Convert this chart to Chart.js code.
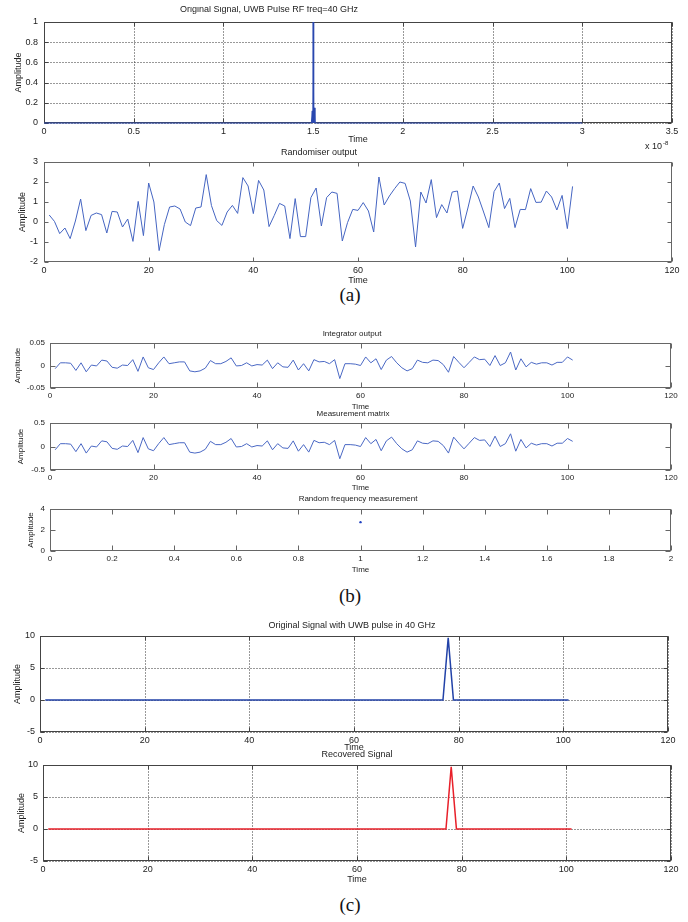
<!DOCTYPE html>
<html>
<head>
<meta charset="utf-8">
<script src="https://cdn.jsdelivr.net/npm/chart.js@4.4.0/dist/chart.umd.min.js"></script>
<style>
  body { margin: 0; background: #fff; width: 688px; height: 922px; position: relative; overflow: hidden; }
  canvas { position: absolute; left: 0; }
  .cap { position: absolute; left: 0; width: 700px; text-align: center; font-family: "Liberation Serif", "Times New Roman", serif; font-size: 19px; color: #111; }
</style>
</head>
<body>
<div class="cap" style="top:284px">(a)</div>
<div class="cap" style="top:585px">(b)</div>
<div class="cap" style="top:894px">(c)</div>
<script>
// sample index used by the 101-point series
const sampleIdx = Array.from({ length: 101 }, (_, i) => i + 1);

// (a) top: UWB pulse, time in units of 1e-8 s
const pulseTime = [0, 1.49, 1.495, 1.498, 1.5, 1.503, 1.506, 1.51, 3.0];
const pulseAmp  = [0, 0, 0.12, 0, 1.0, 0, 0.15, 0, 0];

// (a) bottom: randomiser output
const randomiser = [
  0.35, 0.03, -0.58, -0.3, -0.83, 0.05, 1.15, -0.43, 0.33, 0.45,
  0.37, -0.55, 0.53, 0.5, -0.25, 0.15, -0.97, 1.03, -0.68, 1.95,
  1.0, -1.43, -0.13, 0.75, 0.8, 0.65, 0.0, -0.18, 0.7, 0.75,
  2.37, 0.82, 0.07, -0.17, 0.5, 0.83, 0.43, 2.22, 1.8, 0.42,
  2.08, 1.6, -0.23, 0.33, 0.93, 0.8, -0.83, 1.17, -0.73, -0.73,
  1.22, 1.7, -0.2, 1.22, 1.5, 1.43, -0.95, -0.03, 0.63, 0.58,
  0.97, 0.55, -0.5, 2.25, 0.85, 1.3, 1.67, 2.0, 1.93, 1.05,
  -1.25, 1.5, 0.95, 2.12, 0.22, 0.87, 0.45, 1.5, 1.55, -0.32,
  0.7, 1.8, 1.25, 0.5, -0.28, 1.52, 1.95, 0.67, 1.18, -0.28,
  0.63, 0.62, 1.67, 0.98, 0.99, 1.55, 1.25, 0.6, 1.33, -0.33, 1.78
];

// (b) integrator output
const integrator = [
  -0.007, 0.006, 0.006, 0.005, -0.011, 0.006, -0.014, 0.001, -0.001, 0.012,
  0.01, -0.004, -0.006, 0.001, 0, 0.013, -0.013, 0.019, -0.005, -0.009,
  0.006, 0.019, 0.004, 0.006, 0.008, 0.008, -0.012, -0.014, -0.012, -0.006,
  0.011, 0.004, 0.004, 0.009, 0.017, -0.001, 0, 0.006, -0.001, 0.002,
  0.001, 0.012, -0.007, 0.006, -0.003, -0.004, 0.012, -0.01, 0.004, -0.012,
  0.013, 0.008, 0.009, 0.004, 0.013, -0.029, 0.004, 0.004, 0.003, 0,
  0.019, 0.006, 0.015, -0.009, 0.012, 0.02, 0.006, -0.005, -0.012, -0.007,
  0.012, 0.007, 0.006, 0.012, 0.011, 0.002, -0.015, 0.02, 0.007, -0.005,
  0.007, 0.019, 0.013, 0.014, 0, 0.022, 0, 0.006, 0.03, -0.01,
  0.015, -0.003, 0.007, 0.003, 0.006, 0.006, 0.001, 0.007, 0.007, 0.019, 0.012
];

// (b) measurement matrix
const measurement = [
  -0.07, 0.06, 0.06, 0.05, -0.11, 0.06, -0.14, 0.01, -0.01, 0.12,
  0.1, -0.04, -0.06, 0.01, 0, 0.13, -0.13, 0.19, -0.05, -0.09,
  0.06, 0.19, 0.04, 0.06, 0.08, 0.08, -0.12, -0.14, -0.12, -0.06,
  0.11, 0.04, 0.04, 0.09, 0.17, -0.01, 0, 0.06, -0.01, 0.02,
  0.01, 0.12, -0.07, 0.06, -0.03, -0.04, 0.12, -0.1, 0.04, -0.12,
  0.13, 0.08, 0.09, 0.04, 0.13, -0.26, 0.04, 0.04, 0.03, 0,
  0.19, 0.06, 0.15, -0.09, 0.12, 0.2, 0.06, -0.05, -0.12, -0.07,
  0.12, 0.07, 0.06, 0.12, 0.11, 0.02, -0.14, 0.2, 0.07, -0.05,
  0.07, 0.19, 0.13, 0.14, 0, 0.22, 0, 0.06, 0.27, -0.1,
  0.15, -0.03, 0.07, 0.03, 0.06, 0.06, 0.01, 0.07, 0.07, 0.17, 0.11
];

// (b) random frequency measurement: a single point
const freqX = [1];
const freqY = [2.75];

// (c) original and recovered pulse (polyline vertices)
const origX = [1, 77, 78, 79, 101];
const origY = [0, 0, 9.7, 0, 0];
const recX  = [1, 77, 78, 79, 101];
const recY  = [0, 0, 9.7, 0, 0];

// tick labels
const ticksPulseT = [0, 0.5, 1, 1.5, 2, 2.5, 3, 3.5];
const ticksPulseA = [0, 0.2, 0.4, 0.6, 0.8, 1];
const ticksIdx    = [0, 20, 40, 60, 80, 100, 120];
const ticksRand   = [-2, -1, 0, 1, 2, 3];
const ticksInteg  = [-0.05, 0, 0.05];
const ticksMeas   = [-0.5, 0, 0.5];
const ticksFreqX  = [0, 0.2, 0.4, 0.6, 0.8, 1, 1.2, 1.4, 1.6, 1.8, 2];
const ticksFreqY  = [0, 2, 4];
const ticksPulse  = [-5, 0, 5, 10];

const FONT = '"Liberation Sans", Arial, sans-serif';

const pts = (xs, ys) => xs.map((x, i) => ({ x: x, y: ys[i] }));

// MATLAB-like box, inward ticks, dotted grid, title
const matlabAxes = {
  id: 'matlabAxes',
  beforeDatasetsDraw(chart, args, o) {
    const { ctx, chartArea: a, scales: { x, y } } = chart;
    const l = Math.round(a.left) + 0.5, r = Math.round(a.right) - 0.5;
    const t = Math.round(a.top) + 0.5, b = Math.round(a.bottom) - 0.5;
    ctx.save();
    if (o.grid) {
      ctx.strokeStyle = '#333';
      ctx.lineWidth = 1;
      ctx.setLineDash([1, 2]);
      ctx.beginPath();
      x.ticks.forEach(tk => {
        const px = Math.round(x.getPixelForValue(tk.value)) + 0.5;
        ctx.moveTo(px, t); ctx.lineTo(px, b);
      });
      y.ticks.forEach(tk => {
        const py = Math.round(y.getPixelForValue(tk.value)) + 0.5;
        ctx.moveTo(l, py); ctx.lineTo(r, py);
      });
      ctx.stroke();
      ctx.setLineDash([]);
    }
    ctx.strokeStyle = o.boxColor;
    ctx.lineWidth = 1;
    ctx.strokeRect(l, t, r - l, b - t);
    ctx.beginPath();
    x.ticks.forEach(tk => {
      const px = Math.round(x.getPixelForValue(tk.value)) + 0.5;
      ctx.moveTo(px, b); ctx.lineTo(px, b - o.tl);
      ctx.moveTo(px, t); ctx.lineTo(px, t + o.tl);
    });
    y.ticks.forEach(tk => {
      const py = Math.round(y.getPixelForValue(tk.value)) + 0.5;
      ctx.moveTo(l, py); ctx.lineTo(l + o.tl, py);
      ctx.moveTo(r, py); ctx.lineTo(r - o.tl, py);
    });
    ctx.stroke();
    ctx.restore();
  },
  afterDraw(chart, args, o) {
    const ctx = chart.ctx;
    ctx.save();
    ctx.fillStyle = '#222';
    ctx.font = o.fontSize + 'px ' + FONT;
    ctx.textAlign = 'center';
    ctx.textBaseline = 'middle';
    ctx.fillText(o.title, o.titleX, o.titleY);
    if (o.exponent) {
      const e = o.exponent;
      ctx.textAlign = 'left';
      ctx.fillText('x 10', e.x, e.y);
      const w = ctx.measureText('x 10').width;
      ctx.font = (o.fontSize - 3) + 'px ' + FONT;
      ctx.fillText('-8', e.x + w + 1, e.y - 4);
    }
    ctx.restore();
  }
};

function addPlot(p) {
  const padTop = 16;
  const extra = p.extraBottom || 0;
  const lh = p.font * 1.2;
  const padBottom = Math.round(p.timeY - p.B + lh / 2);
  const top = p.T - padTop;
  const h = p.B - p.T + padTop + padBottom + extra;
  const c = document.createElement('canvas');
  c.width = 688; c.height = h;
  c.style.top = top + 'px';
  c.style.width = '688px'; c.style.height = h + 'px';
  document.body.appendChild(c);

  const tickFont = { family: FONT, size: p.font };
  new Chart(c, {
    type: p.type || 'line',
    data: { datasets: p.datasets },
    options: {
      responsive: false,
      animation: false,
      devicePixelRatio: 1,
      layout: { padding: { top: padTop, right: 688 - p.R, left: 0, bottom: extra } },
      plugins: {
        legend: { display: false },
        tooltip: { enabled: false },
        matlabAxes: {
          grid: p.grid, boxColor: p.boxColor || '#555', tl: p.tl || 4,
          title: p.title, titleX: p.titleX, titleY: p.titleY - top,
          fontSize: p.font,
          exponent: p.exponent ? { x: p.exponent.x, y: p.exponent.y - top } : null
        }
      },
      scales: {
        x: {
          type: 'linear', min: p.xTicks[0], max: p.xTicks[p.xTicks.length - 1],
          afterBuildTicks: s => { s.ticks = p.xTicks.map(v => ({ value: v })); },
          afterFit: s => { s.height = padBottom; },
          grid: { display: false, drawTicks: false },
          border: { display: false },
          ticks: { font: tickFont, color: '#222', padding: p.xPad || 3, maxRotation: 0, autoSkip: false,
                   callback: v => String(v) },
          title: { display: true, text: 'Time', font: tickFont, color: '#222', padding: { top: 0, bottom: 0 } }
        },
        y: {
          type: 'linear', min: p.yTicks[0], max: p.yTicks[p.yTicks.length - 1],
          afterBuildTicks: s => { s.ticks = p.yTicks.map(v => ({ value: v })); },
          afterFit: s => { s.width = p.L; },
          grid: { display: false, drawTicks: false },
          border: { display: false },
          ticks: { font: tickFont, color: '#222', padding: p.yPad || 5, autoSkip: false,
                   callback: v => String(v) },
          title: { display: true, text: 'Amplitude', font: tickFont, color: '#222',
                   padding: { top: p.yTitleX - lh / 2, bottom: 0 } }
        }
      }
    },
    plugins: [matlabAxes]
  });
}

const lineSet = (data, color, width) => ({
  data: data, borderColor: color, borderWidth: width, pointRadius: 0,
  fill: false, tension: 0, clip: 3
});

// (a)
addPlot({
  L: 44, R: 672, T: 22, B: 123, font: 9, timeY: 140, yTitleX: 19, yPad: 6, extraBottom: 10,
  title: 'Original Signal, UWB Pulse RF freq=40 GHz', titleX: 269, titleY: 10,
  xTicks: ticksPulseT, yTicks: ticksPulseA, grid: true, boxColor: '#444',
  exponent: { x: 645, y: 147 },
  datasets: [lineSet(pts(pulseTime, pulseAmp), '#2a48b0', 1)]
});
addPlot({
  L: 44, R: 672, T: 162, B: 262, font: 9, timeY: 281, yTitleX: 23, yPad: 6,
  title: 'Randomiser output', titleX: 319, titleY: 153,
  xTicks: ticksIdx, yTicks: ticksRand, grid: false, boxColor: '#666',
  datasets: [lineSet(pts(sampleIdx, randomiser), '#4565c2', 1)]
});

// (b)
addPlot({
  L: 50, R: 671, T: 343, B: 388, font: 8, timeY: 407, yTitleX: 18, yPad: 5, tl: 5,
  title: 'Integrator output', titleX: 352, titleY: 334,
  xTicks: ticksIdx, yTicks: ticksInteg, grid: false, boxColor: '#666',
  datasets: [lineSet(pts(sampleIdx, integrator), '#4a68c4', 1)]
});
addPlot({
  L: 50, R: 671, T: 423, B: 470, font: 8, timeY: 488, yTitleX: 21, yPad: 5, tl: 5,
  title: 'Measurement matrix', titleX: 353, titleY: 414,
  xTicks: ticksIdx, yTicks: ticksMeas, grid: false, boxColor: '#666',
  datasets: [lineSet(pts(sampleIdx, measurement), '#4a68c4', 1)]
});
addPlot({
  L: 50, R: 671, T: 509, B: 551, font: 8, timeY: 570, yTitleX: 31, yPad: 5, tl: 5,
  type: 'scatter',
  title: 'Random frequency measurement', titleX: 358, titleY: 499,
  xTicks: ticksFreqX, yTicks: ticksFreqY, grid: false, boxColor: '#666',
  datasets: [{ data: pts(freqX, freqY), pointRadius: 1.2, pointBackgroundColor: '#2040c0',
               pointBorderWidth: 0, showLine: false }]
});

// (c)
addPlot({
  L: 40, R: 668, T: 636, B: 732, font: 9, timeY: 748, yTitleX: 18, yPad: 5, xPad: 3,
  title: 'Original Signal with UWB pulse in 40 GHz', titleX: 352, titleY: 626,
  xTicks: ticksIdx, yTicks: ticksPulse, grid: true, boxColor: '#444',
  datasets: [lineSet(pts(origX, origY), '#2242a8', 1.5)]
});
addPlot({
  L: 43, R: 671, T: 765, B: 861, font: 9, timeY: 880, yTitleX: 22, yPad: 5,
  title: 'Recovered Signal', titleX: 357, titleY: 755,
  xTicks: ticksIdx, yTicks: ticksPulse, grid: true, boxColor: '#444',
  datasets: [lineSet(pts(recX, recY), '#e8202a', 1.5)]
});
</script>
</body>
</html>
